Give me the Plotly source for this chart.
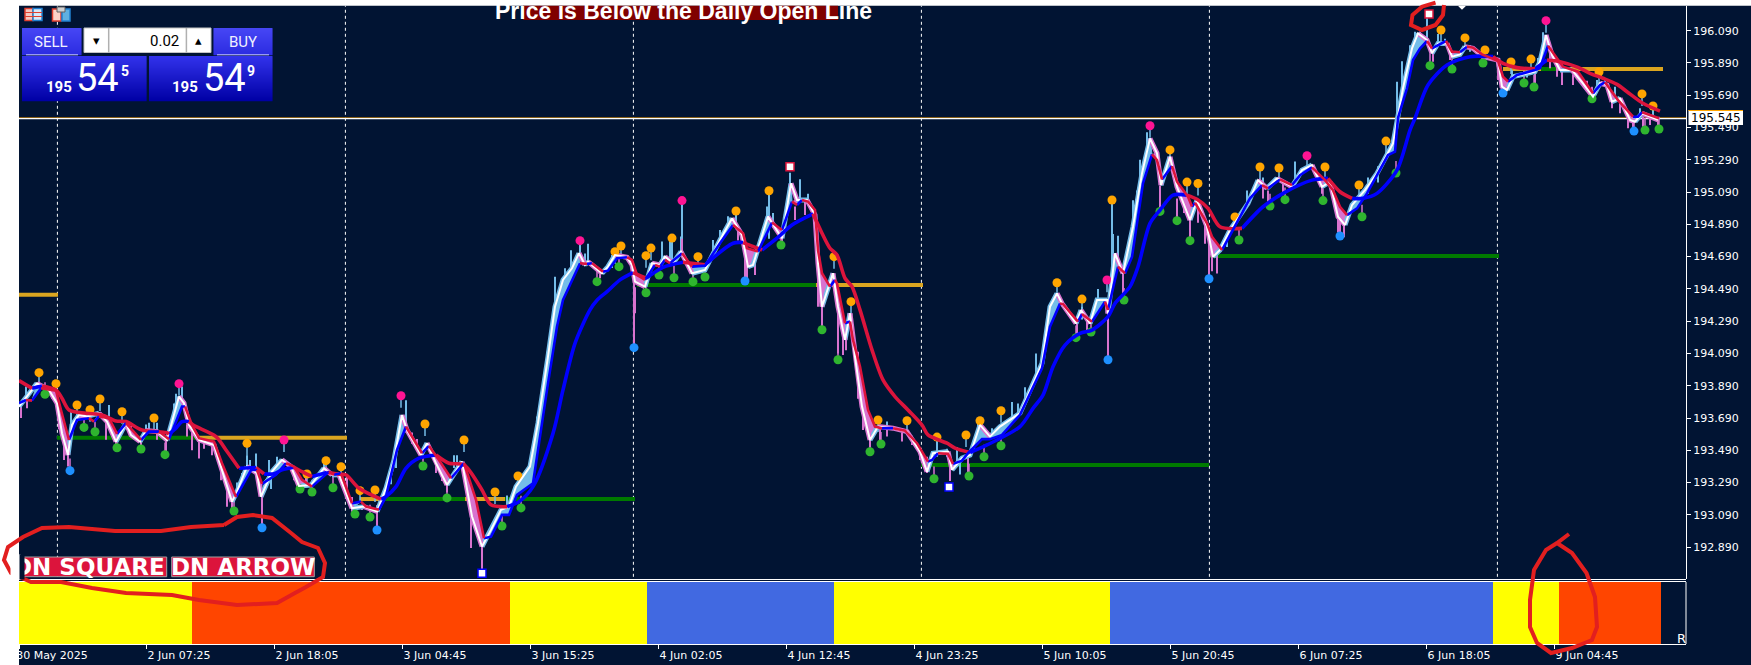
import plotly.graph_objects as go

W, H = 1751, 665
BG = "#011433"
PLOT_L, PLOT_R, MAIN_T, MAIN_B, SUB_T, SUB_B = 19, 1686, 5.7, 579, 582, 644

# ---------- data ----------
tick_bars = [0, 127, 255, 383, 511, 639, 767, 895, 1023, 1151, 1279, 1407, 1535]
tick_text = ["30 May 2025", "2 Jun 07:25", "2 Jun 18:05", "3 Jun 04:45", "3 Jun 15:25", "4 Jun 02:05",
             "4 Jun 12:45", "4 Jun 23:25", "5 Jun 10:05", "5 Jun 20:45", "6 Jun 07:25", "6 Jun 18:05", "9 Jun 04:45"]
price_ticks = [192.89, 193.09, 193.29, 193.49, 193.69, 193.89, 194.09, 194.29, 194.49, 194.69, 194.89,
               195.09, 195.29, 195.49, 195.69, 195.89, 196.09]
day_lines = [38.4, 326.4, 614.4, 902.4, 1190.4, 1478.4]
bid, ask = 195.545, 195.549

slow_x = [0,13,23,37,43,50,67,83,97,107,123,147,150,157,163,170,175,197,207,220,237,245,255,263,275,283,293,308,320,327,340,362,367,377,387,400,417,430,445,462,472,488,500,514,534,544,556,571,578,588,601,614,627,644,664,686,714,724,743,758,773,794,803,811,818,826,833,841,853,864,876,889,903,909,928,936,951,968,1001,1014,1024,1034,1046,1061,1073,1089,1096,1111,1119,1131,1141,1154,1168,1178,1189,1201,1223,1244,1264,1293,1309,1321,1333,1344,1358,1378,1391,1396,1409,1428,1451,1474,1484,1498,1516,1528,1541,1559,1571,1584,1598,1608,1624,1641]
slow_p = [193.922,193.874,193.889,193.864,193.813,193.740,193.720,193.709,193.672,193.668,193.616,193.600,193.592,193.627,193.668,193.668,193.643,193.575,193.492,193.379,193.383,193.344,193.344,193.369,193.385,193.358,193.327,193.352,193.342,193.338,193.255,193.187,193.203,193.265,193.379,193.441,193.461,193.410,193.400,193.255,193.152,193.141,193.172,193.265,193.595,193.864,194.153,194.360,194.420,194.473,194.546,194.591,194.556,194.624,194.655,194.639,194.773,194.777,194.731,194.804,194.886,194.955,194.835,194.742,194.700,194.556,194.504,194.360,194.112,193.926,193.823,193.740,193.647,193.585,193.534,193.503,193.476,193.523,193.637,193.750,193.832,194.008,194.142,194.215,194.235,194.318,194.400,194.504,194.627,194.896,194.978,195.071,195.071,195.045,194.989,194.875,194.865,194.999,195.082,195.164,195.175,195.092,195.051,195.051,195.082,195.226,195.474,195.547,195.753,195.877,195.929,195.929,195.888,195.861,195.853,195.908,195.898,195.863,195.826,195.795,195.757,195.712,195.640,195.592]

fast_x = [0,7,13,22,37,42,50,58,70,75,80,90,98,107,122,130,140,150,163,166,173,180,195,203,217,232,238,243,257,267,275,283,293,310,315,322,333,342,347,360,367,378,387,403,410,420,432,445,457,465,472,483,490,498,514,529,538,544,553,561,568,573,584,589,598,608,613,618,626,636,641,646,651,658,663,673,686,701,714,724,728,739,753,763,773,778,783,789,796,799,803,811,816,818,826,831,834,841,849,856,863,874,886,898,909,913,919,929,934,943,949,963,971,983,1001,1023,1031,1041,1044,1059,1063,1073,1086,1089,1099,1106,1113,1124,1133,1138,1143,1153,1158,1169,1173,1176,1188,1193,1203,1214,1231,1243,1249,1261,1273,1281,1293,1306,1314,1321,1328,1338,1348,1359,1369,1376,1379,1388,1394,1401,1408,1413,1418,1427,1433,1441,1448,1454,1463,1479,1484,1489,1498,1516,1521,1529,1536,1544,1559,1574,1581,1586,1599,1614,1619,1623,1640]
fast_p = [193.782,193.802,193.798,193.874,193.860,193.740,193.554,193.678,193.689,193.668,193.700,193.689,193.592,193.658,193.554,193.606,193.606,193.558,193.761,193.761,193.647,193.565,193.544,193.410,193.200,193.368,193.368,193.282,193.338,193.410,193.389,193.307,193.265,193.358,193.338,193.348,193.162,193.172,193.141,193.121,193.203,193.492,193.637,193.472,193.517,193.430,193.317,193.410,193.183,192.945,192.955,193.090,193.090,193.214,193.286,193.905,194.257,194.422,194.546,194.649,194.645,194.649,194.597,194.603,194.680,194.686,194.670,194.577,194.546,194.639,194.628,194.670,194.649,194.686,194.711,194.628,194.634,194.773,194.886,194.835,194.742,194.721,194.901,194.855,195.031,195.010,195.041,195.031,194.979,194.731,194.587,194.504,194.546,194.525,194.277,194.288,194.174,194.009,193.740,193.637,193.627,193.627,193.612,193.534,193.420,193.430,193.472,193.468,193.406,193.426,193.472,193.559,193.559,193.585,193.710,193.998,194.256,194.400,194.396,194.287,194.334,194.287,194.410,194.359,194.627,194.586,194.689,195.144,195.323,195.288,195.168,195.251,195.154,195.061,195.000,195.024,194.896,194.813,194.731,194.855,195.051,195.133,195.113,195.168,195.133,195.195,195.243,195.164,195.102,194.999,194.947,194.989,195.082,195.206,195.319,195.340,195.550,195.733,195.908,195.980,196.026,195.980,195.997,196.026,195.960,195.956,195.991,195.985,195.943,195.902,195.805,195.774,195.815,195.846,195.857,195.997,195.939,195.867,195.836,195.702,195.753,195.770,195.660,195.557,195.557,195.584,195.547]

white_x = [0,5,18,30,38,43,49,53,60,68,80,88,97,107,112,121,127,138,148,160,165,170,180,195,203,213,218,228,238,242,253,263,272,280,292,305,313,320,333,345,358,367,375,383,388,402,408,417,428,443,453,463,472,482,490,497,511,519,529,536,544,553,560,566,569,583,589,596,608,613,616,626,633,641,646,654,662,673,686,701,713,723,729,734,749,763,772,778,788,796,799,803,814,819,826,831,836,843,851,859,874,888,901,908,914,929,933,943,951,961,971,981,1001,1023,1031,1038,1043,1057,1062,1071,1078,1088,1089,1096,1104,1114,1123,1131,1138,1142,1151,1158,1171,1178,1188,1194,1201,1211,1229,1239,1248,1258,1273,1283,1293,1303,1311,1319,1326,1333,1346,1358,1374,1378,1384,1393,1399,1408,1413,1419,1428,1433,1441,1446,1454,1464,1479,1483,1488,1494,1516,1521,1527,1533,1541,1553,1564,1574,1581,1588,1593,1601,1611,1616,1623,1639]
white_p = [193.761,193.800,193.905,193.864,193.782,193.596,193.461,193.647,193.709,193.700,193.720,193.668,193.544,193.658,193.585,193.544,193.612,193.606,193.554,193.823,193.782,193.647,193.554,193.523,193.369,193.172,193.234,193.389,193.348,193.203,193.358,193.431,193.389,193.269,193.275,193.379,193.338,193.338,193.131,193.141,193.111,193.255,193.430,193.709,193.616,193.461,193.534,193.410,193.276,193.420,193.080,192.894,192.997,193.121,193.141,193.265,193.389,193.658,194.071,194.380,194.546,194.618,194.711,194.639,194.659,194.587,194.628,194.700,194.686,194.639,194.535,194.504,194.649,194.639,194.690,194.649,194.721,194.587,194.608,194.793,194.928,194.824,194.628,194.639,194.938,194.804,195.144,195.041,195.041,194.948,194.649,194.380,194.587,194.380,194.174,194.339,194.071,193.761,193.554,193.637,193.627,193.606,193.482,193.358,193.472,193.482,193.369,193.441,193.461,193.647,193.575,193.637,193.720,194.029,194.380,194.462,194.400,194.276,194.359,194.276,194.421,194.421,194.338,194.710,194.586,194.875,195.206,195.422,195.330,195.133,195.309,195.123,194.917,195.040,194.875,194.689,194.731,194.855,195.020,195.164,195.113,195.175,195.123,195.226,195.257,195.123,195.154,194.937,194.886,195.009,195.102,195.206,195.391,195.536,195.733,195.980,196.073,196.032,195.950,196.011,196.011,195.929,195.943,195.991,195.981,195.929,195.908,195.743,195.722,195.805,195.836,195.898,196.063,195.939,195.846,195.846,195.764,195.681,195.764,195.753,195.650,195.671,195.537,195.526,195.578,195.537]

orange_x = [20,37,58,71,81,103,135,228,307,322,288,341,356,406,445,476,499,602,596,627,632,653,679,717,750,815,832,859,888,918,947,961,982,1038,1063,1093,1151,1168,1179,1216,1241,1260,1306,1340,1367,1422,1446,1466,1492,1512,1580,1623,1634]
orange_p = [193.971,193.903,193.771,193.742,193.808,193.729,193.690,193.533,193.426,193.388,193.343,193.240,193.244,193.653,193.554,193.232,193.331,194.756,194.720,194.696,194.743,194.805,194.690,194.973,195.098,194.690,194.411,193.678,193.673,193.572,193.585,193.673,193.735,194.528,194.427,195.041,195.351,195.152,195.143,194.936,195.245,195.239,195.245,195.134,195.406,196.094,196.045,195.970,195.896,195.914,195.834,195.698,195.623]
green_x = [26,65,76,98,122,146,215,281,293,314,336,351,404,428,483,502,578,600,627,640,655,674,686,762,803,819,851,862,915,950,965,982,1057,1072,1105,1141,1158,1171,1220,1251,1266,1304,1343,1377,1411,1433,1464,1505,1515,1573,1626,1640]
green_p = [193.837,193.632,193.605,193.506,193.498,193.463,193.114,193.250,193.232,193.258,193.095,193.077,193.393,193.195,193.021,193.133,194.535,194.628,194.466,194.576,194.559,194.535,194.564,194.762,194.237,194.051,193.481,193.529,193.314,193.331,193.450,193.518,194.188,194.223,194.421,194.970,194.913,194.789,194.793,195.004,195.043,195.037,194.937,195.208,195.873,195.852,195.890,195.766,195.741,195.668,195.474,195.481]
blue_x = [51,243,358,615,726,1089,1190,1321,1484,1615]
blue_p = [193.364,193.010,192.996,194.126,194.539,194.051,194.553,194.818,195.704,195.468]
pink_x = [160,265,382,561,663,1088,1131,1288,1527]
pink_p = [193.903,193.554,193.828,194.789,195.037,194.545,195.501,195.315,196.152]
arrow_up_x = [463, 930]
arrow_up_p = [192.728, 193.262]
arrow_dn_x = [771, 1410]
arrow_dn_p = [195.247, 196.193]

up_wick_x = [7,52,90,127,130,138,155,157,163,218,223,228,231,237,250,252,258,305,372,377,387,435,438,488,493,518,528,536,546,552,566,569,593,643,651,662,694,701,709,748,754,771,781,789,868,918,928,938,941,959,973,981,993,999,1006,1017,1036,1063,1079,1093,1094,1099,1114,1118,1121,1128,1208,1228,1244,1276,1349,1359,1378,1383,1384,1391,1396,1401,1408,1419,1426,1451,1493,1508,1519,1524,1578,1586,1596,1621,1634,663,750,717,653,561]
up_wick_lo = [193.802,193.62,193.70,193.61,193.61,193.61,193.70,193.70,193.78,193.22,193.30,193.36,193.35,193.37,193.33,193.25,193.37,193.35,193.28,193.38,193.60,193.38,193.38,193.10,193.14,193.55,193.95,194.35,194.50,194.60,194.63,194.65,194.62,194.65,194.66,194.72,194.70,194.77,194.87,194.90,194.87,195.05,195.03,195.03,193.62,193.45,193.45,193.40,193.34,193.59,193.57,193.58,193.68,193.70,193.78,193.95,194.35,194.30,194.38,194.62,194.60,194.65,194.85,194.90,195.10,195.30,194.75,195.00,195.10,195.15,195.08,195.15,195.55,195.72,195.65,195.90,195.98,196.00,196.03,196.00,196.00,195.96,195.80,195.80,195.85,195.95,195.72,195.76,195.67,195.57,195.56,194.71,194.80,194.86,194.64,194.70]
up_wick_hi = [193.885,193.74,193.771,193.65,193.66,193.66,193.78,193.84,193.885,193.29,193.35,193.46,193.43,193.47,193.43,193.33,193.45,193.41,193.39,193.52,193.80,193.46,193.46,193.21,193.22,193.70,194.10,194.566,194.618,194.73,194.71,194.77,194.70,194.783,194.783,194.814,194.793,194.855,194.94,195.00,194.96,195.21,195.17,195.08,193.668,193.544,193.50,193.51,193.42,193.68,193.627,193.647,193.79,193.78,193.88,194.09,194.46,194.38,194.49,195.04,194.83,194.82,195.04,195.10,195.29,195.46,194.83,195.10,195.18,195.28,195.18,195.25,195.774,195.90,195.753,196.00,196.083,196.083,196.197,196.07,196.04,196.00,195.845,195.846,195.92,196.08,195.785,195.795,195.743,195.61,195.609,195.037,195.098,194.973,194.805,194.789]
dn_wick_x = [2,8,33,40,45,49,87,97,112,122,138,147,168,173,180,185,193,202,208,213,243,275,280,287,328,333,343,358,393,398,417,423,428,450,452,458,463,581,615,616,663,719,726,728,736,763,776,786,799,803,807,819,824,827,839,844,851,861,868,883,893,901,908,931,949,1058,1068,1089,1104,1141,1158,1165,1171,1179,1186,1190,1193,1198,1244,1249,1264,1303,1319,1321,1325,1414,1431,1479,1483,1488,1516,1531,1538,1543,1554,1568,1573,1593,1601,1609,1614,1624,1631,1639]
dn_wick_lo = [193.69,193.75,193.81,193.62,193.43,193.39,193.555,193.51,193.575,193.50,193.555,193.48,193.575,193.49,193.44,193.50,193.46,193.305,193.14,193.13,193.01,193.305,193.255,193.29,193.18,193.11,193.12,193.00,193.53,193.49,193.35,193.30,193.23,193.18,192.885,193.00,192.73,194.556,194.13,194.339,194.71,194.79,194.54,194.535,194.576,194.773,194.917,194.948,194.38,194.235,194.44,194.09,194.08,194.11,193.81,193.616,193.51,193.55,193.575,193.544,193.523,193.43,193.35,193.30,193.35,194.20,194.235,194.05,194.45,194.99,194.91,194.96,194.79,194.90,194.77,194.55,194.60,194.585,195.05,195.03,195.09,195.08,194.84,194.82,194.81,195.898,195.908,195.784,195.712,195.733,195.764,195.857,195.805,195.753,195.753,195.712,195.68,195.609,195.578,195.485,195.475,195.495,195.506,195.475]
dn_wick_hi = [193.78,193.80,193.86,193.78,193.60,193.50,193.68,193.60,193.64,193.55,193.60,193.56,193.65,193.60,193.55,193.56,193.53,193.40,193.30,193.20,193.25,193.38,193.30,193.35,193.33,193.20,193.14,193.15,193.60,193.56,193.44,193.38,193.30,193.30,193.10,193.15,192.95,194.60,194.55,194.50,194.80,194.85,194.72,194.70,194.66,194.83,195.00,195.03,194.75,194.40,194.55,194.40,194.20,194.20,194.10,193.75,193.60,193.62,193.62,193.60,193.58,193.50,193.45,193.40,193.45,194.30,194.29,194.36,194.60,195.13,195.05,195.07,195.00,195.03,194.90,194.80,194.75,194.72,195.12,195.10,195.15,195.15,194.95,195.00,194.90,195.98,195.96,195.88,195.80,195.78,195.84,195.95,195.90,195.90,195.82,195.78,195.74,195.68,195.67,195.56,195.54,195.56,195.55,195.54]

open_start = [0,38,180,341,364,446,486,618,797,902,1190,1484,1522,1551]
open_end = [39,180,328,364,446,486,616,797,904,1190,1480,1522,1551,1644]
open_price = [194.454,193.568,193.568,193.188,193.188,193.188,193.188,194.514,194.514,193.399,194.694,195.852,195.852,195.852]
open_above = [False,True,False,False,True,False,True,True,False,True,True,False,True,False]

state_start = [0,173,491,628,815,1091,1474,1540]
state_end = [173,491,628,815,1091,1474,1540,1642]
state_color = ["#ffff00","#ff4500","#ffff00","#4169e1","#ffff00","#4169e1","#ffff00","#ff4500"]

# ---------- helpers ----------
def X(px): return px / W
def Y(py): return 1 - py / H

def runs(xs, ys):
    """Consecutive stretches of a series that rise, and those that fall."""
    out = []
    i = 0
    while i < len(xs) - 1:
        rising = ys[i + 1] >= ys[i]
        j = i + 1
        while j < len(xs) - 1 and (ys[j + 1] >= ys[j]) == rising:
            j += 1
        out.append((rising, xs[i:j + 1], ys[i:j + 1]))
        i = j
    return out

def split_dir(xs, ys):
    ux, uy, dx, dy = [], [], [], []
    for rising, rx, ry in runs(xs, ys):
        tx, ty = (ux, uy) if rising else (dx, dy)
        tx += list(rx) + [None]
        ty += list(ry) + [None]
    return ux, uy, dx, dy

def wicks(xs, lo, hi):
    ox, oy = [], []
    for x, a, b in zip(xs, lo, hi):
        ox += [x, x, None]
        oy += [a, b, None]
    return ox, oy

def line(x, y, color, width, dash=None, shape="linear", smoothing=None):
    ld = dict(color=color, width=width, dash=dash, shape=shape)
    if smoothing is not None:
        ld["smoothing"] = smoothing
    return go.Scatter(x=x, y=y, mode="lines", line=ld, connectgaps=False, hoverinfo="skip",
                      showlegend=False, yaxis="y", xaxis="x")

def dots(x, y, color, size=9, symbol="circle", lc=None, lw=0):
    return go.Scatter(x=x, y=y, mode="markers",
                      marker=dict(color=color, size=size, symbol=symbol, line=dict(color=lc or color, width=lw)),
                      hoverinfo="skip", showlegend=False)

def rect(x0, y0, x1, y1, fill, line_color=None, lw=0):
    return dict(type="rect", xref="paper", yref="paper", x0=X(x0), x1=X(x1), y0=Y(y0), y1=Y(y1),
                fillcolor=fill, line=dict(color=line_color or fill, width=lw), layer="above")

def hv(x0, y0, x1, y1, color, lw=1):
    return dict(type="line", xref="paper", yref="paper", x0=X(x0), x1=X(x1), y0=Y(y0), y1=Y(y1),
                line=dict(color=color, width=lw), layer="above")

def poly(xs, ys, color="#e21f1f", lw=4):
    path = "M " + " L ".join(f"{X(a):.5f},{Y(b):.5f}" for a, b in zip(xs, ys))
    return dict(type="path", xref="paper", yref="paper", path=path, line=dict(color=color, width=lw), layer="above")

def grad(x0, y0, x1, y1, c0, c1):
    out = []
    n = int(y1 - y0)
    for i in range(n):
        t = i / max(n - 1, 1)
        c = tuple(round(a + (b - a) * t) for a, b in zip(c0, c1))
        out.append(rect(x0, y0 + i, x1, y0 + i + 1.2, "rgb(%d,%d,%d)" % c))
    return out

def txt(px, py, s, size, color="white", family="Roboto", anchor="center", bold=False, **kw):
    return dict(x=X(px), y=Y(py), xref="paper", yref="paper", text=f"<b>{s}</b>" if bold else s, showarrow=False,
                xanchor=anchor, yanchor="middle", font=dict(size=size, color=color, family=family), **kw)

SKY, ORCHID = "#74bde9", "#d873cf"

# ---------- traces ----------
fig = go.Figure()

# sub window state bars
fig.add_trace(go.Bar(x=[(a + b) / 2 for a, b in zip(state_start, state_end)], y=[1] * len(state_start),
                     width=[b - a for a, b in zip(state_start, state_end)],
                     marker=dict(color=state_color, line=dict(width=0)), xaxis="x", yaxis="y2",
                     hoverinfo="skip", showlegend=False))

# day separators
dx, dy = [], []
for d in day_lines:
    dx += [d, d, None]
    dy += [192.0, 197.0, None]
fig.add_trace(line(dx, dy, "white", 1, "3px,3px"))

# ask/bid
fig.add_trace(line([0, 1667], [ask, ask], "#ffa500", 1))
fig.add_trace(line([0, 1667], [bid, bid], "white", 1.2))

# daily open segments
for flag, col in ((True, "#007a00"), (False, "#daa520")):
    sx, sy = [], []
    for a, b, p, f in zip(open_start, open_end, open_price, open_above):
        if f == flag:
            sx += [a, b, None]
            sy += [p, p, None]
    fig.add_trace(line(sx, sy, col, 4))

# marker stems + wicks
sx, sy = wicks(orange_x + pink_x, [p - 0.075 for p in orange_p + pink_p], orange_p + pink_p)
fig.add_trace(line(sx, sy, SKY, 1.5))
sx, sy = wicks(green_x + blue_x, green_p + blue_p, [p + 0.075 for p in green_p + blue_p])
fig.add_trace(line(sx, sy, ORCHID, 1.5))
sx, sy = wicks(up_wick_x, up_wick_lo, up_wick_hi)
fig.add_trace(line(sx, sy, SKY, 2))
sx, sy = wicks(dn_wick_x, dn_wick_lo, dn_wick_hi)
fig.add_trace(line(sx, sy, ORCHID, 2))

# band between the close line and the fast average
bands = {True: ([], []), False: ([], [])}
for rising, rx, ry in runs(fast_x, fast_p):
    inside = [(a, b) for a, b in zip(white_x, white_p) if rx[0] <= a <= rx[-1]]
    inside.reverse()
    bx, by = bands[rising]
    bx += list(rx) + [a for a, _ in inside] + [rx[0], None]
    by += list(ry) + [b for _, b in inside] + [ry[0], None]
for rising, col in ((True, SKY), (False, ORCHID)):
    fig.add_trace(go.Scatter(x=bands[rising][0], y=bands[rising][1], mode="lines", fill="toself", fillcolor=col,
                             line=dict(color=col, width=1), hoverinfo="skip", showlegend=False))
ux, uy, lx, ly = split_dir(white_x, white_p)
fig.add_trace(line(ux, uy, SKY, 5))
fig.add_trace(line(lx, ly, ORCHID, 5))

# pivots
fig.add_trace(dots(orange_x, orange_p, "#ffa500"))
fig.add_trace(dots(green_x, green_p, "#2fb52f"))
fig.add_trace(dots(blue_x, blue_p, "#1e90ff"))
fig.add_trace(dots(pink_x, pink_p, "#ff1493"))

fig.add_trace(line(white_x, white_p, "white", 2))

# fast and slow averages, coloured by direction
ux, uy, lx, ly = split_dir(slow_x, slow_p)
fig.add_trace(line(ux, uy, "#0000ff", 3.6, shape="spline", smoothing=0.8))
fig.add_trace(line(lx, ly, "#dc143c", 3.6, shape="spline", smoothing=0.8))
ux, uy, lx, ly = split_dir(fast_x, fast_p)
fig.add_trace(line(ux, uy, "#0000ff", 2.6))
fig.add_trace(line(lx, ly, "#dc143c", 2.6))

# arrow icons
fig.add_trace(dots(arrow_up_x, arrow_up_p, "white", size=8, symbol="square", lc="#0000ff", lw=1.5))
fig.add_trace(dots(arrow_dn_x, arrow_dn_p, "white", size=8, symbol="square", lc="#dc143c", lw=1.5))
fig.add_trace(dots([1443], [196.243], "white", size=6, symbol="diamond"))

# ---------- chrome ----------
shapes = [
    rect(0, 0, PLOT_L, H, "white"),
    rect(0, 0, W, MAIN_T, "white"),
    hv(PLOT_L, MAIN_B + 0.5, PLOT_R, MAIN_B + 0.5, "white"),
    hv(PLOT_L, SUB_T - 0.5, PLOT_R, SUB_T - 0.5, "white"),
    hv(PLOT_R, SUB_T, PLOT_R, SUB_B, "white"),
    rect(1688.5, 110, 1743, 125, "white"),
    hv(1688.5, 110.5, 1743, 110.5, "#ffa500"),
]
shapes += grad(22, 28, 81.5, 55, (70, 70, 245), (44, 44, 225))
shapes += grad(213.5, 28, 272.5, 55, (70, 70, 245), (44, 44, 225))
shapes += grad(22, 56, 146.6, 101, (50, 50, 235), (0, 0, 165))
shapes += grad(149, 56, 272.5, 101, (50, 50, 235), (0, 0, 165))
shapes += [
    hv(26, 54.8, 78, 54.8, "#c8c8ff"), hv(217, 54.8, 269, 54.8, "#c8c8ff"),
    rect(84, 28, 211, 52.5, "#ffffff", "#c4c4c4", 1),
    hv(108.7, 28, 108.7, 52.5, "#b0b0b0", 1.5), hv(186.4, 28, 186.4, 52.5, "#b0b0b0", 1.5),
    # toolbar icons
    rect(25, 8.5, 33, 20.5, "#f5c8c0", "#e04030", 1.5), rect(33, 8.5, 42, 20.5, "#d8e8f8", "#2080d0", 1.5),
    hv(25, 12.5, 42, 12.5, "#e04030"), hv(25, 16.5, 42, 16.5, "#e04030"),
    rect(52.5, 9, 61, 21, "#fbd2c8", "#e04030", 1.5), rect(62, 9, 70, 21, "#60b0e0", "#2080d0", 1.5),
    rect(57, 7, 65, 12, "#d0d0d0", "#606060", 1),
    # DN labels
    rect(23.5, 557, 166.7, 576.7, "#dc143c", "#a0a0a0", 1),
    rect(171.7, 557, 314.3, 576.7, "#dc143c", "#a0a0a0", 1),
    # title band
    rect(523, 5.7, 838, 20, "#800000"),
    # hand drawn marks
    poly([224,237,253,272,291,302,318,325,323,306,295,277,237,199,172,126,92,61,31,11,4,8,23,42,69,115,161,191,224],
         [525,517,515,518,533,542,548,563,577,587,593,603,605,600,595,593,588,582,582,573,560,547,537,528,527,531,531,527,525]),
    poly([1435.5,1422,1412.5,1411,1422,1435.5,1443,1444], [2.7,6.7,15,25,30,25,15,5]),
    poly([1569,1557,1546,1534,1530,1530,1537,1551,1572,1592,1597,1595,1586.5,1572,1557],
         [534,543,550,570,600,627,643,653,648,640,627,597,573,553,543]),
]

annotations = [
    txt(683, 10.5, "Price is Below the Daily Open Line", 23, family="Liberation Sans", bold=True),
    txt(51, 41.5, "SELL", 15, color="#f0f0ff"),
    txt(243, 41.5, "BUY", 15, color="#f0f0ff"),
    txt(180.6, 40.5, "0.02", 15, color="black", anchor="right"),
    txt(96.4, 40.5, "▾", 13, color="black", family="DejaVu Sans"),
    txt(198, 40.5, "▴", 13, color="black", family="DejaVu Sans"),
    txt(59, 87, "195", 15, bold=True),
    txt(97, 78, "54", 38),
    txt(124.5, 71, "5", 14, bold=True),
    txt(185, 87, "195", 15, bold=True),
    txt(224, 78, "54", 38),
    txt(251, 71, "9", 14, bold=True),
    txt(1716, 118, "195.545", 12, color="black", family="DejaVu Sans"),
    txt(1681, 638, "R", 13, family="DejaVu Sans"),
    txt(167, 567, "DN SQUARE", 23, family="DejaVu Sans", anchor="right", bold=True),
    txt(243, 567, "DN ARROW", 23, family="DejaVu Sans", bold=True),
    # the label box cuts its text off on the left
    dict(x=X(10), y=Y(567), xref="paper", yref="paper", text=" ", showarrow=False, xanchor="left", yanchor="middle",
         width=9, height=24, bgcolor="white", borderpad=0),
    dict(x=X(19), y=Y(567), xref="paper", yref="paper", text=" ", showarrow=False, xanchor="left", yanchor="middle",
         width=4, height=24, bgcolor=BG, borderpad=0),
]

fig.update_layout(
    width=W, height=H, autosize=False, margin=dict(l=0, r=0, t=0, b=0, pad=0, autoexpand=False),
    paper_bgcolor=BG, plot_bgcolor=BG, showlegend=False, hovermode=False, barmode="overlay",
    font=dict(family="DejaVu Sans", size=11, color="white"),
    shapes=shapes, annotations=annotations,
    xaxis=dict(domain=[X(PLOT_L), X(PLOT_R)], range=[0, PLOT_R - PLOT_L], anchor="y2", showgrid=False, zeroline=False,
               tickmode="array", tickvals=tick_bars, ticktext=tick_text, ticks="outside", ticklen=4, tickwidth=1,
               tickcolor="white", showline=True, linecolor="white", linewidth=1, ticklabelshift=33,
               ticklabelstandoff=-3, tickfont=dict(size=11, color="white", family="DejaVu Sans")),
    yaxis=dict(domain=[Y(MAIN_B), Y(MAIN_T)], range=[196.280 - 0.0061958 * MAIN_B, 196.280 - 0.0061958 * MAIN_T],
               side="right", anchor="x", showgrid=False, zeroline=False, tickmode="array", tickvals=price_ticks,
               tickformat=".3f", ticks="outside", ticklen=4, tickwidth=1, tickcolor="white", showline=True,
               linecolor="white", linewidth=1, tickfont=dict(size=11, color="white", family="DejaVu Sans")),
    yaxis2=dict(domain=[Y(SUB_B), Y(SUB_T)], range=[0, 1], anchor="x", showgrid=False, zeroline=False,
                showticklabels=False, ticks=""),
)

fig.write_html("out.html", config=dict(displayModeBar=False),
               post_script="document.documentElement.style.background='white';document.body.style.margin='0';"
                           "document.body.style.overflow='hidden';var g=document.getElementById('{plot_id}');"
                           "g.style.position='fixed';g.style.left='0';g.style.top='0';g.style.margin='0';")
